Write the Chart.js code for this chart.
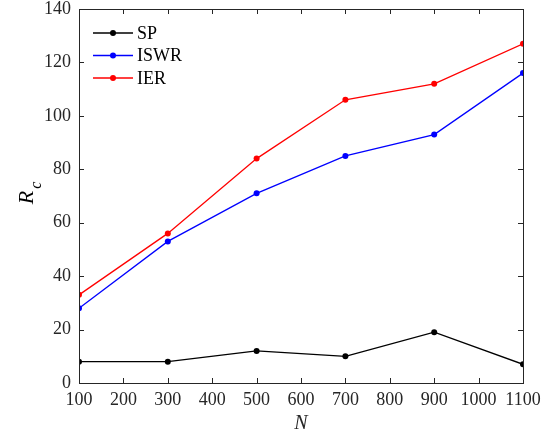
<!DOCTYPE html>
<html><head><meta charset="utf-8">
<script src="https://cdn.jsdelivr.net/npm/chart.js@4/dist/chart.umd.min.js"></script>
<style>html,body{margin:0;padding:0;background:#fff}#wrap{width:552px;height:436px}
.f{font-family:'Liberation Serif';position:absolute;left:-999px}</style>
</head><body><span class="f">100 <i>N</i></span><div id="wrap"><canvas id="c" width="552" height="436"></canvas></div>
<script>
const N = [100, 300, 500, 700, 900, 1100];
const SP = [8, 8, 12, 10, 19, 7];
const ISWR = [28, 53, 71, 85, 93, 116];
const IER = [33, 56, 84, 106, 112, 127];
const xTicks = [100,200,300,400,500,600,700,800,900,1000,1100];
const yTicks = [0,20,40,60,80,100,120,140];
const seriesNames = ['SP','ISWR','IER'];
const seriesColors = ['#000000','#0000ff','#ff0000'];

const FONT = "'Liberation Serif', serif";
const AX = '#262626';

function mk(name, vals, col){
  return {label:name, data:N.map((x,i)=>({x:x,y:vals[i]})), borderColor:col, backgroundColor:col,
    borderWidth:1.3, pointRadius:3, pointHoverRadius:3, pointBorderWidth:0, tension:0};
}

const boxPlugin = {
  id:'box',
  afterDraw(chart){
    const ctx = chart.ctx, a = chart.chartArea, xs = chart.scales.x, ys = chart.scales.y;
    ctx.save();
    ctx.strokeStyle = AX; ctx.lineWidth = 1;
    ctx.strokeRect(a.left+0.5, a.top+0.5, a.right-a.left, a.bottom-a.top);
    const L = 5;
    ctx.beginPath();
    xTicks.forEach(v=>{
      const p = Math.round(xs.getPixelForValue(v))+0.5;
      ctx.moveTo(p, a.bottom); ctx.lineTo(p, a.bottom-L);
      ctx.moveTo(p, a.top); ctx.lineTo(p, a.top+L);
    });
    yTicks.forEach(v=>{
      const p = Math.round(ys.getPixelForValue(v))+0.5;
      ctx.moveTo(a.left, p); ctx.lineTo(a.left+L, p);
      ctx.moveTo(a.right, p); ctx.lineTo(a.right-L, p);
    });
    ctx.stroke();
    // y title R_c
    ctx.fillStyle = '#000';
    ctx.translate(33, (a.top+a.bottom)/2 - 3);
    ctx.rotate(-Math.PI/2);
    ctx.textBaseline = 'alphabetic';
    ctx.font = 'italic 22px '+FONT;
    const wR = ctx.measureText('R').width;
    ctx.font = 'italic 16px '+FONT;
    const wc = ctx.measureText('c').width;
    const start = -(wR+wc+2)/2;
    ctx.font = 'italic 22px '+FONT;
    ctx.fillText('R', start, 0);
    ctx.font = 'italic 16px '+FONT;
    ctx.fillText('c', start+wR+2, 8);
    ctx.restore();
    // legend
    ctx.save();
    ctx.font = '18px '+FONT;
    ctx.textBaseline = 'middle';
    chart.data.datasets.forEach((ds,i)=>{
      const y = a.top + 24 + i*22.5;
      const x0 = a.left + 14;
      ctx.strokeStyle = ds.borderColor; ctx.lineWidth = 1.3;
      ctx.beginPath(); ctx.moveTo(x0, y); ctx.lineTo(x0+40, y); ctx.stroke();
      ctx.fillStyle = ds.borderColor;
      ctx.beginPath(); ctx.arc(x0+20, y, 3, 0, Math.PI*2); ctx.fill();
      ctx.fillStyle = '#000';
      ctx.fillText(ds.label, x0+44, y+1);
    });
    ctx.restore();
  }
};

function build(){
Chart.defaults.font.family = FONT;
new Chart(document.getElementById('c'), {
  type:'line',
  data:{datasets:[mk(seriesNames[0],SP,seriesColors[0]), mk(seriesNames[1],ISWR,seriesColors[1]), mk(seriesNames[2],IER,seriesColors[2])]},
  options:{
    responsive:false, animation:false, devicePixelRatio:1,
    layout:{padding:{left:0,right:29,top:9,bottom:0}},
    plugins:{legend:{display:false}, tooltip:{enabled:false}},
    scales:{
      x:{type:'linear', min:100, max:1100,
        afterBuildTicks(s){ s.ticks = xTicks.map(v=>({value:v})); },
        afterFit(s){ s.height = 53; s.paddingLeft = 0; s.paddingRight = 0; },
        grid:{display:false, drawTicks:false}, border:{display:false},
        ticks:{color:AX, font:{family:FONT,size:18}, padding:6, maxRotation:0, autoSkip:false, callback:v=>String(v)},
        title:{display:true, text:'N', color:AX, font:{family:FONT,size:20,style:'italic'}, padding:{top:0,bottom:0}}
      },
      y:{type:'linear', min:0, max:140,
        afterBuildTicks(s){ s.ticks = yTicks.map(v=>({value:v})); },
        afterFit(s){ s.width = 79; s.paddingTop = 0; s.paddingBottom = 0; },
        grid:{display:false, drawTicks:false}, border:{display:false},
        ticks:{color:AX, font:{family:FONT,size:18}, padding:8, autoSkip:false, callback:v=>String(v)}
      }
    }
  },
  plugins:[boxPlugin]
});
}
if (document.fonts && document.fonts.load) {
  Promise.all([document.fonts.load("16px 'Liberation Serif'"), document.fonts.load("italic 16px 'Liberation Serif'")]).then(build, build);
} else build();
</script></body></html>
